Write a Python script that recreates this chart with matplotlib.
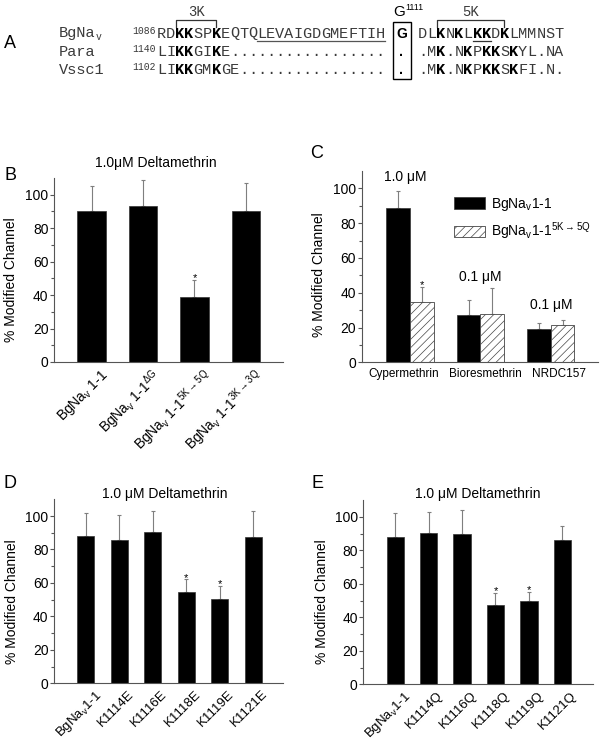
import matplotlib
matplotlib.use('Agg')
import matplotlib.pyplot as plt
import matplotlib.transforms as mtransforms
from matplotlib.patches import Rectangle
import numpy as np

plt.rcParams['font.family'] = ['Liberation Sans', 'DejaVu Sans']
plt.rcParams['mathtext.fontset'] = 'custom'
plt.rcParams['mathtext.rm'] = 'Liberation Sans'
plt.rcParams['mathtext.it'] = 'Liberation Sans:italic'
plt.rcParams['mathtext.bf'] = 'Liberation Sans:bold'
plt.rcParams['hatch.linewidth'] = 0.5

W, H = 603, 743

# ---- panel A: sequence alignment ----
seq_names = ['BgNa', 'Para', 'Vssc1']
seq_subs = ['v', '', '']
seq_starts = ['1086', '1140', '1102']
seq_left = ['RDKKSPKEQTQLEVAIGDGMEFTIH',
            'LIKKGIKE.................',
            'LIKKGMKGE................']
seq_box = ['G', '.', '.']
seq_right = ['DLKNKLKKDKLMMNST',
             '.MK.NKPKKSKYL.NA',
             '.MK.NKPKKSKFI.N.']

# ---- panel B ----
b_labels = [r'BgNa$_\mathregular{v}$ 1-1',
            r'BgNa$_\mathregular{v}$ 1-1$^\mathregular{\Delta G}$',
            r'BgNa$_\mathregular{v}$ 1-1$^\mathregular{5K\rightarrow5Q}$',
            r'BgNa$_\mathregular{v}$ 1-1$^\mathregular{3K\rightarrow3Q}$']
b_mean = [90, 93, 39, 90]
b_err = [15, 16, 10, 17]
b_sig = [False, False, True, False]

# ---- panel C ----
c_groups = ['Cypermethrin', 'Bioresmethrin', 'NRDC157']
c_conc = ['1.0 μM', '0.1 μM', '0.1 μM']
c_wt_mean = [89, 27, 19]
c_wt_err = [9.5, 8.6, 3.4]
c_mut_mean = [34.5, 27.8, 21.3]
c_mut_err = [9, 14.7, 3]
c_mut_sig = [True, False, False]
c_series = [r'BgNa$_\mathregular{v}$1-1',
            r'BgNa$_\mathregular{v}$1-1$^\mathregular{5K\rightarrow5Q}$']

# ---- panel D ----
d_labels = [r'BgNa$_\mathregular{v}$1-1', 'K1114E', 'K1116E', 'K1118E', 'K1119E', 'K1121E']
d_mean = [88, 85.6, 90.6, 54.8, 50.2, 87.6]
d_err = [14, 15, 12.4, 7.4, 8, 15.6]
d_sig = [False, False, False, True, True, False]

# ---- panel E ----
e_labels = [r'BgNa$_\mathregular{v}$1-1', 'K1114Q', 'K1116Q', 'K1118Q', 'K1119Q', 'K1121Q']
e_mean = [87.7, 90.1, 89.7, 47.3, 49.9, 86.1]
e_err = [14.3, 12.9, 14.3, 7.4, 5.4, 8.5]
e_sig = [False, False, False, True, True, False]

AX_COL = '#555555'
ERR_COL = '#7f7f7f'


def fx(px):
    return px / W


def fy(py):
    return 1 - py / H


def style_axes(ax, xlim):
    ax.set_xlim(*xlim)
    ax.set_ylim(0, 110)
    ax.spines['top'].set_visible(False)
    ax.spines['right'].set_visible(False)
    for s in ['left', 'bottom']:
        ax.spines[s].set_color(AX_COL)
        ax.spines[s].set_linewidth(0.8)
    ax.set_yticks([0, 20, 40, 60, 80, 100])
    ax.set_yticks([10, 30, 50, 70, 90], minor=True)
    ax.tick_params(axis='y', which='major', length=3, width=0.8, color=AX_COL, labelsize=10, pad=1)
    ax.tick_params(axis='y', which='minor', length=2, width=0.8, color=AX_COL)
    ax.tick_params(axis='x', length=0)


def plain_bars(ax, means, errs, sig, width):
    x = np.arange(1, len(means) + 1)
    ax.errorbar(x, means, yerr=[np.zeros(len(errs)), errs], fmt='none', ecolor=ERR_COL,
                elinewidth=0.8, capsize=1.5, capthick=0.8, zorder=1)
    ax.bar(x, means, width, color='black', edgecolor='#333333', linewidth=0.5, zorder=2)
    for xi, m, e, s in zip(x, means, errs, sig):
        if s:
            ax.annotate('*', (xi, m + e), xytext=(0, -1), textcoords='offset points',
                        ha='center', va='baseline', fontsize=8)
    return x


def rotated_labels(ax, x, labels, dx, size=10):
    ax.set_xticks(x)
    ax.set_xticklabels(labels, rotation=45, ha='right', va='top', rotation_mode='anchor', fontsize=size)
    off = mtransforms.ScaledTranslation(dx / 72, 0, ax.figure.dpi_scale_trans)
    for lab in ax.get_xticklabels():
        lab.set_transform(lab.get_transform() + off)


fig = plt.figure(figsize=(W / 100, H / 100), dpi=100)

# panel A drawn in pixel coordinates
ax_a = fig.add_axes([0, 0, 1, 1])
ax_a.set_xlim(0, W)
ax_a.set_ylim(H, 0)
ax_a.axis('off')

mono = 'Liberation Mono'
cw = 9.1
left_x0 = 157
right_x0 = 418
row_base = [37.5, 56, 74.5]
seq_col = '#3a3a3a'

for r in range(3):
    yb = row_base[r]
    ax_a.text(58.5, yb, seq_names[r], family=mono, fontsize=11, va='baseline', color=seq_col)
    if seq_subs[r]:
        ax_a.text(58.5 + 4 * cw + 0.5, yb + 3, seq_subs[r], family=mono, fontsize=7,
                  va='baseline', color=seq_col)
    ax_a.text(left_x0 - 1, yb - 4, seq_starts[r], family=mono, fontsize=7, ha='right',
              va='baseline', color=seq_col)
    for i, ch in enumerate(seq_left[r]):
        bold = ch == 'K'
        ax_a.text(left_x0 + (i + 0.5) * cw, yb, ch, family=mono, fontsize=11, ha='center',
                  va='baseline', fontweight='bold' if bold else 'normal',
                  color='black' if bold else seq_col)
    for i, ch in enumerate(seq_right[r]):
        bold = ch == 'K'
        ax_a.text(right_x0 + (i + 0.5) * cw, yb, ch, family=mono, fontsize=11, ha='center',
                  va='baseline', fontweight='bold' if bold else 'normal',
                  color='black' if bold else seq_col)
    ax_a.text(401.5, yb, seq_box[r], fontsize=10, ha='center', va='baseline',
              fontweight='bold', color='black')

ax_a.add_patch(Rectangle((392.5, 21.5), 18, 57, fill=False, edgecolor='black', linewidth=1))
ax_a.text(399, 16, 'G', fontsize=11, ha='center', va='baseline')
ax_a.text(405, 10, '1111', fontsize=6.5, ha='left', va='baseline')

# brackets 3K / 5K
b3 = (left_x0 + 2 * cw + 1, left_x0 + 6.5 * cw)
ax_a.plot([b3[0], b3[0], b3[1], b3[1]], [27, 19.5, 19.5, 27], color='#333333', lw=0.9)
ax_a.text(sum(b3) / 2, 16.5, '3K', family=mono, fontsize=10, ha='center', va='baseline', color=seq_col)
b5 = (right_x0 + 2 * cw + 1, right_x0 + 9.5 * cw)
ax_a.plot([b5[0], b5[0], b5[1], b5[1]], [27, 19.5, 19.5, 27], color='#333333', lw=0.9)
ax_a.text(sum(b5) / 2, 16.5, '5K', family=mono, fontsize=10, ha='center', va='baseline', color=seq_col)

# underlines
ax_a.plot([left_x0 + 11 * cw, left_x0 + 25 * cw], [41, 41], color='#555555', lw=0.9)
ax_a.plot([right_x0 + 6 * cw, right_x0 + 8 * cw], [41, 41], color='#333333', lw=0.9)

# ---- B ----
ax_b = fig.add_axes([fx(54), fy(362), fx(283) - fx(54), (362 - 178) / H])
xb = plain_bars(ax_b, b_mean, b_err, b_sig, 0.56)
style_axes(ax_b, (0.27, 4.72))
rotated_labels(ax_b, xb, b_labels, 6)

# ---- C ----
ax_c = fig.add_axes([fx(361.7), fy(362.3), fx(598) - fx(361.7), (362.3 - 171) / H])
xc = np.arange(1, len(c_groups) + 1)
bw = 0.336
ax_c.errorbar(xc - bw / 2, c_wt_mean, yerr=[np.zeros(3), c_wt_err], fmt='none', ecolor=ERR_COL,
              elinewidth=0.8, capsize=1.5, capthick=0.8, zorder=1)
ax_c.errorbar(xc + bw / 2, c_mut_mean, yerr=[np.zeros(3), c_mut_err], fmt='none', ecolor=ERR_COL,
              elinewidth=0.8, capsize=1.5, capthick=0.8, zorder=1)
h1 = ax_c.bar(xc - bw / 2, c_wt_mean, bw, color='black', edgecolor='#333333', linewidth=0.5,
              zorder=2, label=c_series[0])
h2 = ax_c.bar(xc + bw / 2, c_mut_mean, bw, color='white', edgecolor='#444444', linewidth=0.6,
              hatch='////', zorder=2, label=c_series[1])
for xi, m, e, s in zip(xc + bw / 2, c_mut_mean, c_mut_err, c_mut_sig):
    if s:
        ax_c.annotate('*', (xi, m + e), xytext=(0, -1), textcoords='offset points',
                      ha='center', va='baseline', fontsize=8)
conc_y = [106.5, 49, 33]
conc_dx = [-0.07, 0, 0]
for xi, t, yy, dx in zip(xc, c_conc, conc_y, conc_dx):
    ax_c.text(xi + dx, yy, t, ha='center', va='center', fontsize=10)
style_axes(ax_c, (0.315, 3.67))
ax_c.set_xticks(xc)
ax_c.set_xticklabels(c_groups, fontsize=8.5)
ax_c.tick_params(axis='x', pad=4)
for lab, dpx in zip(ax_c.get_xticklabels(), [-6, 5, 8.5]):
    lab.set_transform(lab.get_transform() +
                      mtransforms.ScaledTranslation(dpx / 100, 0, fig.dpi_scale_trans))
ax_c.legend(handles=[h1, h2], loc='upper left', bbox_to_anchor=(fx(454), fy(196)),
            bbox_transform=fig.transFigure, frameon=False, fontsize=10, handlelength=2.2,
            handleheight=0.9, handletextpad=0.45, labelspacing=0.55, borderpad=0, borderaxespad=0)

# ---- D ----
ax_d = fig.add_axes([fx(54), fy(683.3), fx(283) - fx(54), (683.3 - 499.3) / H])
xd = plain_bars(ax_d, d_mean, d_err, d_sig, 0.51)
style_axes(ax_d, (0.05, 6.89))
rotated_labels(ax_d, xd, d_labels, 6, 9.5)

# ---- E ----
ax_e = fig.add_axes([fx(363.3), fy(684.3), fx(593.3) - fx(363.3), (684.3 - 500) / H])
xe = plain_bars(ax_e, e_mean, e_err, e_sig, 0.52)
style_axes(ax_e, (0.04, 6.93))
rotated_labels(ax_e, xe, e_labels, 6, 9.5)

# titles, y labels, panel letters
fig.text(fx(156), fy(162.7), '1.0μM Deltamethrin', ha='center', va='center', fontsize=10)
fig.text(fx(165), fy(494), '1.0 μM Deltamethrin', ha='center', va='center', fontsize=10)
fig.text(fx(478), fy(494), '1.0 μM Deltamethrin', ha='center', va='center', fontsize=10)

for xx, yy in [(11, 280), (319, 275), (12, 602), (322, 602)]:
    fig.text(fx(xx), fy(yy), '% Modified Channel', rotation=90, ha='center', va='center', fontsize=10)

for t, xx, yy in [('A', 10, 43), ('B', 10, 175), ('C', 317, 153), ('D', 10, 483), ('E', 317, 483)]:
    fig.text(fx(xx), fy(yy), t, ha='center', va='center', fontsize=13)

fig.savefig('out.png', dpi=100)
